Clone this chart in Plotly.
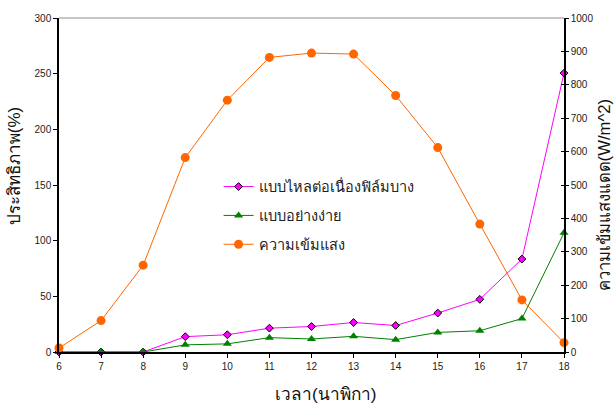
import plotly.graph_objects as go

# Hour of day
hours = [6, 7, 8, 9, 10, 11, 12, 13, 14, 15, 16, 17, 18]

# Efficiency (%) for the two collector types
eff_thin_film = [0, 0, 0, 13.8, 15.5, 21.4, 22.9, 26.5, 23.8, 35.0, 47.3, 83.5, 250.5]
eff_simple = [0, 0, 0, 6.4, 7.3, 12.9, 11.7, 14.1, 11.1, 17.6, 19.1, 30.0, 107.0]

# Solar irradiance (W/m^2)
irradiance = [12, 94, 260, 582, 754, 882, 895, 892, 768, 612, 383, 156, 28]

name_thin = "แบบไหลต่อเนื่องฟิล์มบาง"
name_simple = "แบบอย่างง่าย"
name_irr = "ความเข้มแสง"

y_left_ticks = [0, 50, 100, 150, 200, 250, 300]
y_right_ticks = [0, 100, 200, 300, 400, 500, 600, 700, 800, 900, 1000]

FONT = "Liberation Sans, Arial, sans-serif"

fig = go.Figure()

fig.add_trace(go.Scatter(
    x=hours, y=eff_thin_film, name=name_thin, mode="lines+markers",
    line=dict(color="#ff00ff", width=1),
    marker=dict(symbol="diamond", size=6, color="#ff00ff",
                line=dict(color="#000000", width=1)),
    cliponaxis=False, legendgroup="a",
))
fig.add_trace(go.Scatter(
    x=hours, y=eff_simple, name=name_simple, mode="lines+markers",
    line=dict(color="#008000", width=1),
    marker=dict(symbol="triangle-up", size=8, color="#008000"),
    cliponaxis=False, legendgroup="b",
))
fig.add_trace(go.Scatter(
    x=hours, y=irradiance, name=name_irr, mode="lines+markers",
    yaxis="y2",
    line=dict(color="#ff6600", width=1),
    marker=dict(symbol="circle", size=9, color="#ff6600"),
    cliponaxis=False, legendgroup="c",
))

fig.update_layout(
    width=614, height=418,
    margin=dict(l=59, r=50, t=12, b=66),
    paper_bgcolor="white", plot_bgcolor="white",
    font=dict(family=FONT, size=10, color="#222222"),
    showlegend=True,
    legend=dict(
        x=0.316, y=0.543, xanchor="left", yanchor="top",
        bgcolor="rgba(0,0,0,0)", borderwidth=0,
        font=dict(size=14.5, color="#222222"),
        traceorder="grouped", tracegroupgap=7,
    ),
    xaxis=dict(
        range=[6, 18], tickvals=hours, ticktext=[str(h) for h in hours],
        showgrid=False, zeroline=False,
        showline=True, linecolor="#000000", linewidth=1.5,
        ticks="outside", ticklen=4, tickcolor="#000000",
        tickfont=dict(size=10),
    ),
    yaxis=dict(
        range=[0, 300], tickvals=y_left_ticks,
        showgrid=False, zeroline=False,
        showline=True, linecolor="#000000", linewidth=1.5,
        ticks="outside", ticklen=4, tickcolor="#000000",
        tickfont=dict(size=10),
    ),
    yaxis2=dict(
        range=[0, 1000], tickvals=y_right_ticks,
        overlaying="y", side="right", anchor="x",
        showgrid=False, zeroline=False,
        showline=True, linecolor="#000000", linewidth=1.5,
        ticks="outside", ticklen=3, tickcolor="#000000",
        tickfont=dict(size=10),
    ),
    yaxis3=dict(
        range=[0, 1000], tickvals=y_right_ticks,
        overlaying="y", side="right", anchor="x",
        showgrid=False, zeroline=False, showline=False,
        showticklabels=False,
        ticks="inside", ticklen=3, tickcolor="#000000",
    ),
)

# the right axis ticks cross the axis line, so an unlabeled inside-tick copy is added
fig.add_trace(go.Scatter(x=[6], y=[0], yaxis="y3", mode="none",
                         showlegend=False, hoverinfo="skip"))

# light top border of the plot area
fig.add_shape(type="line", xref="paper", yref="paper",
              x0=0, x1=1, y0=1, y1=1,
              line=dict(color="#b4b4b4", width=1.5))

# axis titles
fig.add_annotation(text="ประสิทธิภาพ(%)", xref="paper", yref="paper",
                   x=-0.088, y=0.555, xanchor="center", yanchor="middle",
                   textangle=-90, showarrow=False,
                   font=dict(size=17, color="#111111"))
fig.add_annotation(text="ความเข้มแสงแดด(W/m^2)", xref="paper", yref="paper",
                   x=1.08, y=0.47, xanchor="center", yanchor="middle",
                   textangle=-90, showarrow=False,
                   font=dict(size=16.7, color="#111111"))
fig.add_annotation(text="เวลา(นาพิกา)", xref="paper", yref="paper",
                   x=0.527, y=-0.125, xanchor="center", yanchor="middle",
                   showarrow=False,
                   font=dict(size=17.2, color="#111111"))

fig.write_html("out.html")
